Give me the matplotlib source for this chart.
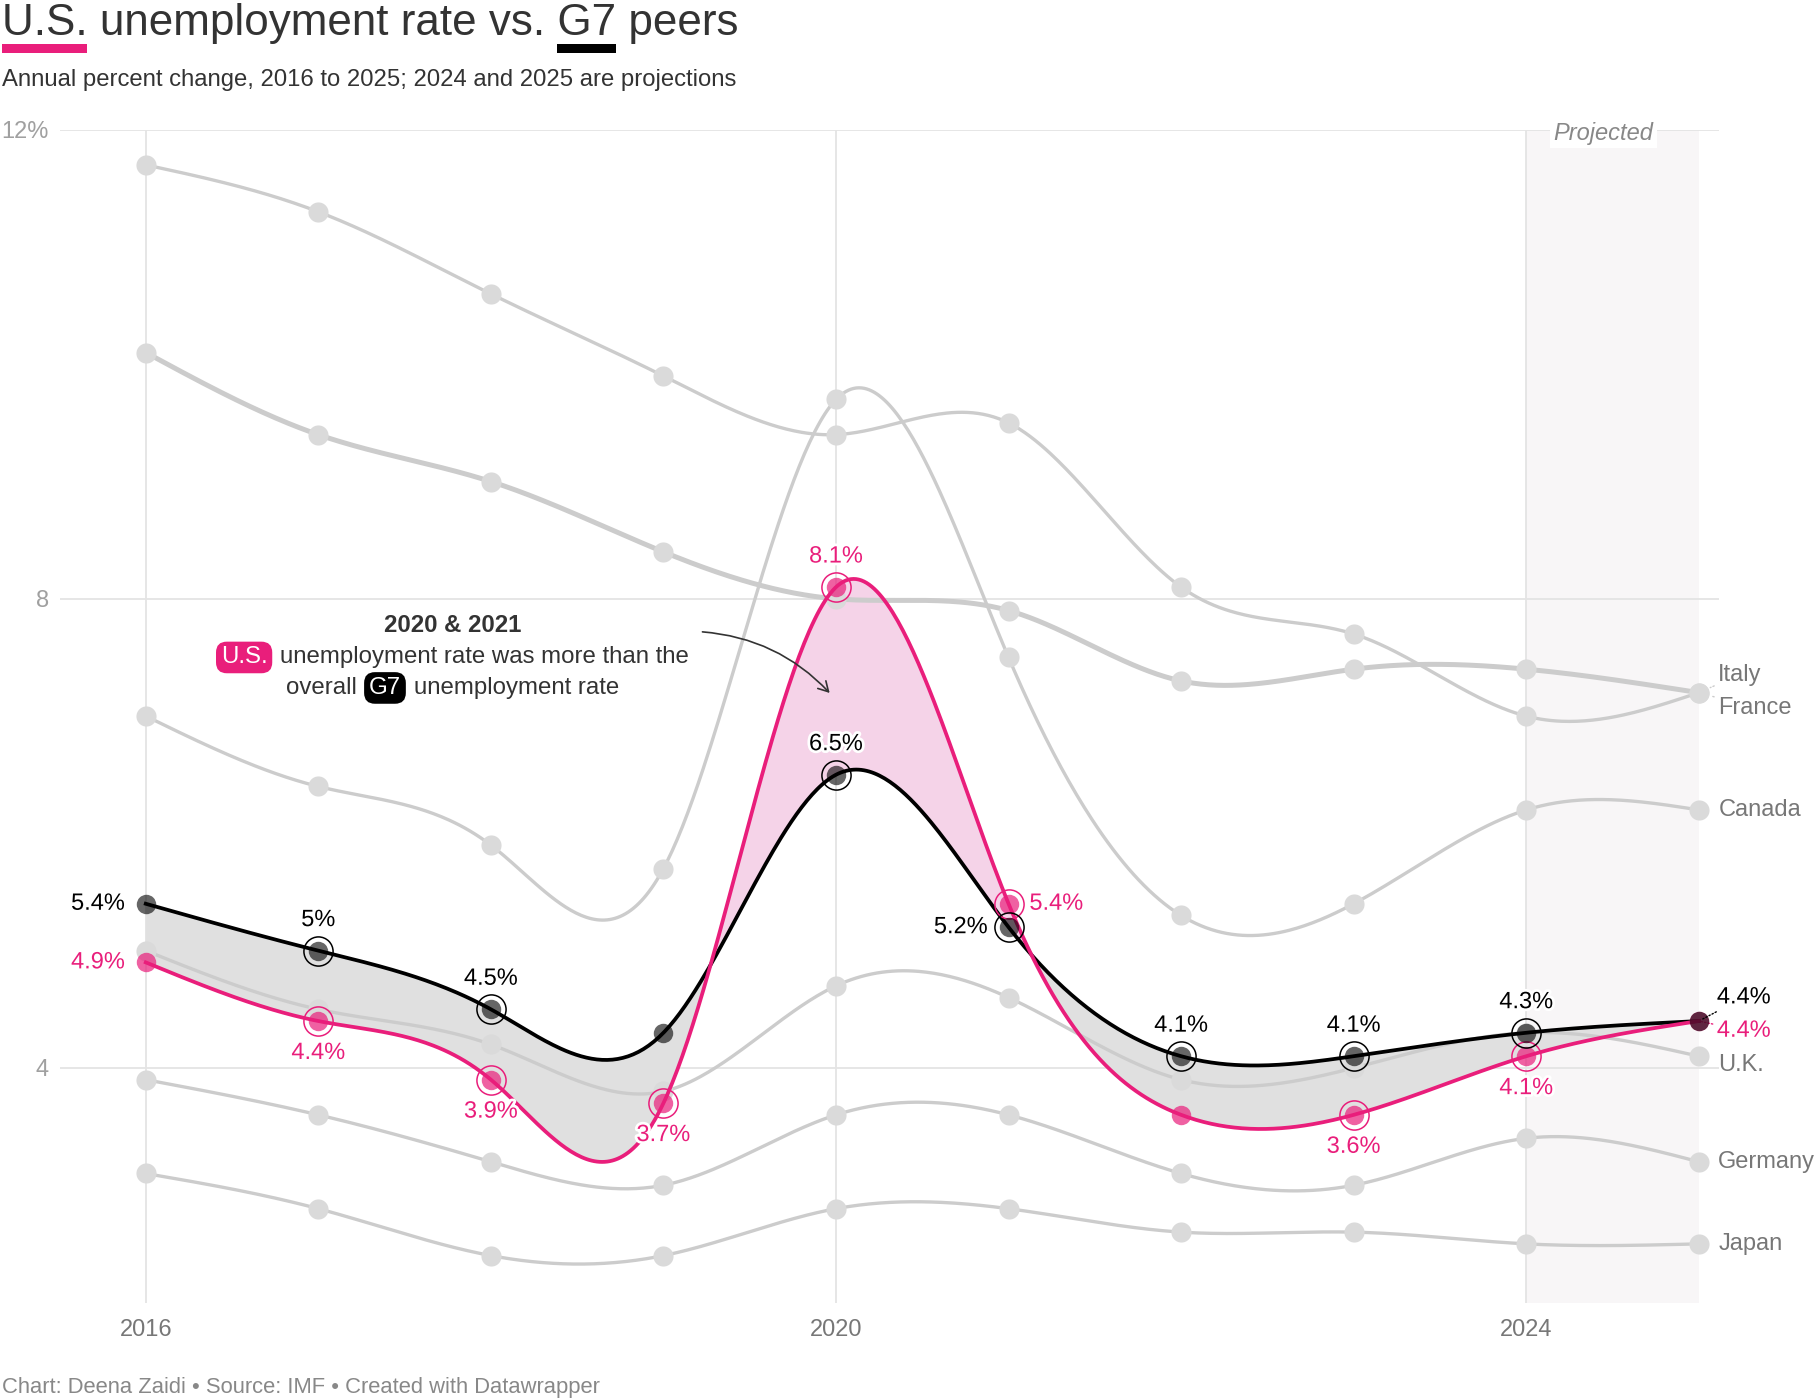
import numpy as np
import matplotlib
matplotlib.use("Agg")
import matplotlib.pyplot as plt
import matplotlib.patheffects as pe
from matplotlib.patches import Rectangle, FancyArrowPatch

plt.rcParams['font.family'] = ['Liberation Sans', 'DejaVu Sans']

# Data (annual unemployment rate, %)
years = [2016, 2017, 2018, 2019, 2020, 2021, 2022, 2023, 2024, 2025]
us = [4.9, 4.4, 3.9, 3.7, 8.1, 5.4, 3.6, 3.6, 4.1, 4.4]
g7 = [5.4, 5.0, 4.5, 4.3, 6.5, 5.2, 4.1, 4.1, 4.3, 4.4]
italy = [11.7, 11.3, 10.6, 9.9, 9.4, 9.5, 8.1, 7.7, 7.0, 7.2]
france = [10.1, 9.4, 9.0, 8.4, 8.0, 7.9, 7.3, 7.4, 7.4, 7.2]
canada = [7.0, 6.4, 5.9, 5.7, 9.7, 7.5, 5.3, 5.4, 6.2, 6.2]
uk = [5.0, 4.5, 4.2, 3.8, 4.7, 4.6, 3.9, 4.0, 4.3, 4.1]
germany = [3.9, 3.6, 3.2, 3.0, 3.6, 3.6, 3.1, 3.0, 3.4, 3.2]
japan = [3.1, 2.8, 2.4, 2.4, 2.8, 2.8, 2.6, 2.6, 2.5, 2.5]
peers = ['Italy', 'France', 'Canada', 'U.K.', 'Germany', 'Japan']
peer_values = [italy, france, canada, uk, germany, japan]

x_ticks = [2016, 2020, 2024]
y_ticks = [4, 8, 12]
y_tick_labels = ['4', '8', '12%']

PINK = '#e91e7b'
GRAY_LINE = '#cccccc'
GRAY_DOT = '#dadada'

# which points get a ring / where their labels go
us_ring = [False, True, True, True, True, True, False, True, True, False]
g7_ring = [False, True, True, False, True, True, True, True, True, False]
us_pos = ['left', 'below', 'below', 'below', 'above', 'right', None, 'below', 'below', 'se']
g7_pos = ['left', 'above', 'above', None, 'above', 'left', 'above', 'above', 'above', 'ne']
label_nudge = {'Italy': 13, 'France': -11, 'U.K.': -6}


def natural_spline(x, y, num=600):
    x = np.asarray(x, float)
    y = np.asarray(y, float)
    n = len(x)
    h = np.diff(x)
    A = np.zeros((n, n))
    b = np.zeros(n)
    A[0, 0] = A[-1, -1] = 1
    for i in range(1, n - 1):
        A[i, i - 1] = h[i - 1]
        A[i, i] = 2 * (h[i - 1] + h[i])
        A[i, i + 1] = h[i]
        b[i] = 6 * ((y[i + 1] - y[i]) / h[i] - (y[i] - y[i - 1]) / h[i - 1])
    M = np.linalg.solve(A, b)
    xs = np.linspace(x[0], x[-1], num)
    idx = np.clip(np.searchsorted(x, xs) - 1, 0, n - 2)
    x0, x1 = x[idx], x[idx + 1]
    hh = x1 - x0
    t0, t1 = x1 - xs, xs - x0
    ys = ((M[idx] * t0**3 + M[idx + 1] * t1**3) / (6 * hh)
          + (y[idx] / hh - M[idx] * hh / 6) * t0
          + (y[idx + 1] / hh - M[idx + 1] * hh / 6) * t1)
    return xs, ys


fig = plt.figure(figsize=(18.16, 14), dpi=100)
ax = fig.add_axes([60 / 1816, 1 - 1302.5 / 1400, 1659 / 1816, 1172.8 / 1400])
ax.set_xlim(2015.503, 2025.117)
ax.set_ylim(2, 12)
for s in ax.spines.values():
    s.set_visible(False)

ax.set_xticks(x_ticks)
ax.set_xticklabels([str(t) for t in x_ticks], fontsize=17, color='#777777')
ax.set_yticks(y_ticks)
ax.set_yticklabels(y_tick_labels, fontsize=17, color='#a0a0a0')
ax.tick_params(axis='both', length=0)
ax.tick_params(axis='x', pad=12)
ax.tick_params(axis='y', pad=8)
ax.grid(True, color='#e4e4e4', lw=1.3, zorder=0)
ax.set_axisbelow(True)

# projected band
ax.axvspan(2024, 2025, color='#f8f6f7', zorder=0.5, lw=0)
ax.text(2024.446, 11.97, 'Projected', fontsize=17, style='italic', color='#888888',
        ha='center', va='center', zorder=2,
        bbox=dict(boxstyle='square,pad=0.15', fc='white', ec='none'))

# fills between U.S. and G7
xs, us_s = natural_spline(years, us)
_, g7_s = natural_spline(years, g7)
ax.fill_between(xs, us_s, g7_s, where=us_s >= g7_s, interpolate=True,
                color='#f5d3e8', lw=0, zorder=1)
ax.fill_between(xs, us_s, g7_s, where=us_s < g7_s, interpolate=True,
                color='#e0e0e0', lw=0, zorder=1)

# peer lines
for name, vals in zip(peers, peer_values):
    px, py = natural_spline(years, vals)
    lw = 3.6 if name == 'France' else 2.4
    ax.plot(px, py, color=GRAY_LINE, lw=lw, zorder=2, solid_capstyle='round')
    ax.plot(years, vals, 'o', ms=14.5, color=GRAY_DOT, mec='none', zorder=3)
    dy = label_nudge.get(name, 0)
    ax.annotate(name, xy=(years[-1], vals[-1]), xytext=(14, dy), textcoords='offset points',
                fontsize=17, color='#777777', va='center', ha='left', zorder=4,
                arrowprops=None if dy in (0, -6) else dict(arrowstyle='-', color='#cccccc', lw=1,
                                                           linestyle=(0, (1, 1.5)),
                                                           shrinkA=1, shrinkB=9))

# main lines
ax.plot(xs, g7_s, color='black', lw=2.7, zorder=5)
ax.plot(xs, us_s, color=PINK, lw=2.7, zorder=5.5)

halo = [pe.withStroke(linewidth=4, foreground='white')]
offsets = {'above': ((0, 22), 'center'), 'below': ((0, -23), 'center'),
           'left': ((-15, 0), 'right'), 'right': ((15, 0), 'left'),
           'ne': ((13, 17), 'left'), 'se': ((13, -7), 'left')}


def draw_points(vals, rings, positions, dot_color, dot_alpha, ring_color, text_color, z):
    for x, v, ring, pos in zip(years, vals, rings, positions):
        ax.plot(x, v, 'o', ms=14, color=dot_color, alpha=dot_alpha, mec='none', zorder=z)
        if ring:
            ax.plot(x, v, 'o', ms=21, mfc='none', mec=ring_color, mew=1.1, zorder=z)
        if pos is None:
            continue
        off, ha = offsets[pos]
        lbl = f'{v:g}%'
        arrow = None
        if pos in ('ne', 'se'):
            arrow = dict(arrowstyle='-', color=text_color, lw=1, linestyle=(0, (1, 1.5)),
                         shrinkA=1, shrinkB=2)
        ax.annotate(lbl, xy=(x, v), xytext=off, textcoords='offset points',
                    ha=ha, va='center', fontsize=17, color=text_color,
                    path_effects=halo, zorder=z + 1, arrowprops=arrow)


draw_points(us, us_ring, us_pos, PINK, 0.7, PINK, PINK, 6)
draw_points(g7, g7_ring, g7_pos, 'black', 0.6, 'black', 'black', 7)

# annotation
ax.text(2017.78, 7.77, '2020 & 2021', fontsize=17.3, fontweight='bold', color='#333333',
        ha='center', va='center', zorder=8)
t_us = ax.text(2016.57, 7.50, 'U.S.', fontsize=17.3, color='white', ha='center', va='center',
               zorder=8, bbox=dict(boxstyle='round,pad=0.2,rounding_size=0.45', fc=PINK, ec='none'))
ax.annotate('unemployment rate was more than the', xy=(1, 0.5), xycoords=t_us,
            xytext=(9, 0), textcoords='offset points', fontsize=17.3, color='#333333',
            ha='left', va='center', zorder=8)
t_over = ax.text(2016.81, 7.24, 'overall', fontsize=17.3, color='#333333', ha='left',
                 va='center', zorder=8)
t_g7 = ax.annotate('G7', xy=(1, 0.5), xycoords=t_over, xytext=(9, 0), textcoords='offset points',
                   fontsize=17.3, color='white', ha='left', va='center', zorder=8,
                   bbox=dict(boxstyle='round,pad=0.2,rounding_size=0.45', fc='black', ec='none'))
ax.annotate('unemployment rate', xy=(1, 0.5), xycoords=t_g7, xytext=(9, 0),
            textcoords='offset points', fontsize=17.3, color='#333333', ha='left', va='center',
            zorder=8)
arrow = FancyArrowPatch((2019.21, 7.72), (2019.974, 7.18), connectionstyle='arc3,rad=-0.2',
                        arrowstyle='->,head_length=7,head_width=4', color='#333333', lw=1.2,
                        zorder=8)
ax.add_patch(arrow)

# title, subtitle, footer
title_y = 1 - 35 / 1400
fig.text(0.001, title_y, 'U.S. unemployment rate vs. G7 peers', fontsize=31.7, color='#333333',
         va='baseline', ha='left')
fig.text(0.001, 1 - 86 / 1400, 'Annual percent change, 2016 to 2025; 2024 and 2025 are projections',
         fontsize=17.2, color='#333333', va='baseline', ha='left')
fig.text(0.001, 1 - 1393 / 1400, 'Chart: Deena Zaidi \u2022 Source: IMF \u2022 Created with Datawrapper',
         fontsize=15.8, color='#888888', va='baseline', ha='left')

fig.canvas.draw()
renderer = fig.canvas.get_renderer()


def width_px(s):
    t = fig.text(0, 0, s, fontsize=31.7)
    w = t.get_window_extent(renderer).width
    t.remove()
    return w


x0 = 0.001 * 1816
w_us = width_px('U.S.')
g7_end = width_px('U.S. unemployment rate vs. G7')
w_g7 = width_px('G7')
for left, w, c in [(x0, w_us, PINK), (x0 + g7_end - w_g7, w_g7, 'black')]:
    fig.patches.append(Rectangle((left / 1816, 1 - 53 / 1400), w / 1816, 9 / 1400,
                                 transform=fig.transFigure, color=c, lw=0))

fig.savefig('out.png', dpi=100)
